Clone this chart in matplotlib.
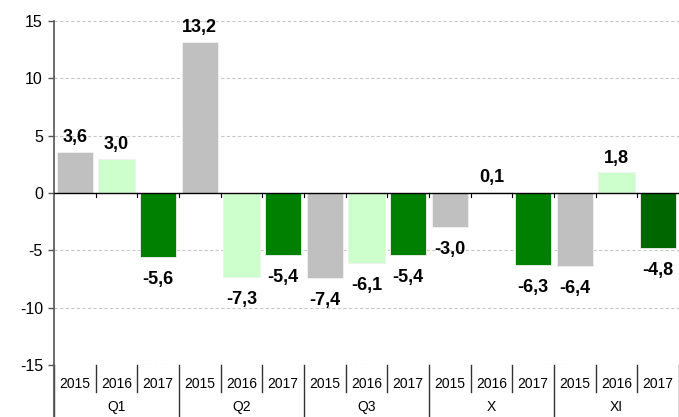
import numpy as np
import matplotlib
matplotlib.use("Agg")
import matplotlib.pyplot as plt
import matplotlib.transforms as mtransforms

plt.rcParams['font.family'] = ['Liberation Sans', 'DejaVu Sans']

groups = ["Q1", "Q2", "Q3", "X", "XI"]
years = ["2015", "2016", "2017"]
values = [3.6, 3.0, -5.6,
          13.2, -7.3, -5.4,
          -7.4, -6.1, -5.4,
          -3.0, 0.1, -6.3,
          -6.4, 1.8, -4.8]
year_colors = ["#C0C0C0", "#CCFFCC", "#008000"]
last_color = "#006600"

n = len(values)
x = np.arange(n)
colors = [year_colors[i % 3] for i in range(n)]
colors[-1] = last_color

fig = plt.figure(figsize=(6.79, 4.17), dpi=100)
ax = fig.add_axes([54 / 679, 52 / 417, 625 / 679, 344 / 417])

ax.bar(x, values, width=0.87, color=colors, edgecolor="#f0f0f0", linewidth=0.6, zorder=3)

ax.set_xlim(-0.5, n - 0.5)
ax.set_ylim(-15, 15)
ax.set_yticks([-15, -10, -5, 0, 5, 10, 15])
ax.set_yticklabels(["-15", "-10", "-5", "0", "5", "10", "15"], fontsize=11.5)
for yv in [-15, -10, -5, 5, 10, 15]:
    ax.axhline(yv, color="#c8c8c8", lw=0.8, ls=(0, (3, 2)), zorder=1)
ax.axhline(0, color="black", lw=1.0, zorder=4)

ax.set_xticks([])
for s in ["top", "right", "bottom"]:
    ax.spines[s].set_visible(False)
ax.spines["left"].set_color("#555555")
ax.spines["left"].set_linewidth(1.2)
ax.tick_params(axis="y", length=4, width=1, color="#555555", pad=4)

# value labels
for xi, v in zip(x, values):
    txt = f"{v:.1f}".replace(".", ",")
    if v >= 0:
        ax.annotate(txt, (xi, v), xytext=(0, 4), textcoords="offset points",
                    ha="center", va="bottom", fontsize=13, fontweight="bold", zorder=5)
    else:
        ax.annotate(txt, (xi, v), xytext=(0, -10), textcoords="offset points",
                    ha="center", va="top", fontsize=13, fontweight="bold", zorder=5)

# small ticks at the zero line
for b in np.arange(0.5, n - 0.5, 1):
    ax.plot([b, b], [0, -0.35], color="black", lw=0.8, zorder=4)

# category axis below the plot
trans = mtransforms.blended_transform_factory(ax.transData, ax.transAxes)
for b in np.arange(-0.5, n + 0.5, 1):
    if b == -0.5 or (b + 0.5) % 3 == 0:
        y_end = -0.2
    else:
        y_end = -(392 - 365) / 344
    ax.plot([b, b], [0, y_end], color="#333333", lw=1.0, transform=trans, clip_on=False)
ax.plot([-0.5, -0.5], [0, -0.2], color="#555555", lw=1.2, transform=trans, clip_on=False)

for xi in x:
    ax.text(xi, -(384 - 365) / 344, years[xi % 3], transform=trans,
            ha="center", va="center", fontsize=10)
for gi, g in enumerate(groups):
    ax.text(gi * 3 + 1, -(407 - 365) / 344, g, transform=trans,
            ha="center", va="center", fontsize=10)

fig.savefig("out.png", dpi=100)
